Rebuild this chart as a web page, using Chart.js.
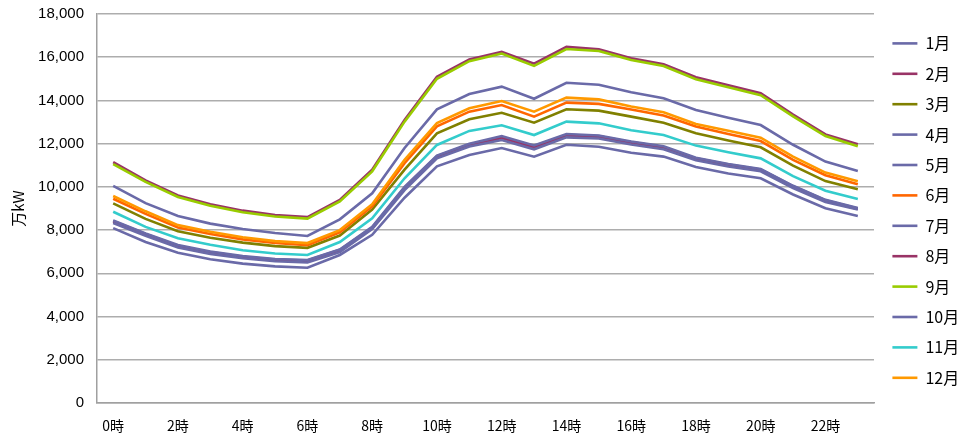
<!DOCTYPE html>
<html><head><meta charset="utf-8">
<script src="https://cdn.jsdelivr.net/npm/chart.js@4/dist/chart.umd.min.js"></script>
<style>html,body{margin:0;padding:0;background:#fff}#wrap{width:961px;height:439px}</style>
</head><body><div id="wrap"><canvas id="c" width="961" height="439"></canvas></div>
<script>
const hours = ['0時','1時','2時','3時','4時','5時','6時','7時','8時','9時','10時','11時','12時','13時','14時','15時','16時','17時','18時','19時','20時','21時','22時','23時'];
const monthNames = ['1月','2月','3月','4月','5月','6月','7月','8月','9月','10月','11月','12月'];
const yTicks = [0,2000,4000,6000,8000,10000,12000,14000,16000,18000];

const m1  = [8420,7820,7280,6980,6770,6640,6590,7090,8120,9960,11420,11960,12300,11880,12410,12350,12070,11850,11320,11030,10800,10030,9380,9000];
const m2  = [8390,7790,7250,6960,6750,6610,6560,7040,8090,9920,11380,11930,12260,11830,12370,12310,12030,11810,11290,11000,10770,10000,9350,8980];
const m3  = [9240,8520,7950,7650,7420,7260,7180,7750,8950,10800,12480,13130,13430,12970,13590,13530,13250,12970,12480,12150,11830,10980,10270,9890];
const m4  = [8090,7450,6950,6650,6450,6320,6260,6850,7780,9500,10950,11480,11800,11400,11950,11860,11580,11400,10920,10620,10400,9650,9010,8650];
const m5  = [8330,7740,7200,6900,6700,6560,6500,6980,8050,9850,11320,11870,12170,11740,12290,12240,11960,11740,11230,10940,10720,9950,9300,8950];
const m6  = [9450,8750,8120,7820,7570,7400,7300,7900,9100,11100,12800,13480,13790,13250,13900,13840,13580,13300,12790,12450,12120,11250,10540,10120];
const m7  = [10050,9250,8650,8300,8050,7870,7730,8500,9700,11800,13590,14300,14640,14080,14820,14730,14380,14100,13560,13200,12860,11950,11170,10740];
const m8  = [11150,10300,9600,9200,8900,8700,8600,9400,10800,13100,15100,15900,16250,15700,16480,16370,15950,15680,15070,14700,14330,13350,12430,11970];
const m9  = [11050,10230,9530,9130,8830,8630,8530,9330,10720,13020,15000,15820,16170,15600,16380,16290,15870,15590,14980,14610,14240,13260,12350,11880];
const m10 = [8450,7850,7310,7010,6800,6660,6620,7100,8150,10000,11450,12000,12350,11920,12450,12380,12100,11880,11350,11060,10830,10050,9400,9020];
const m11 = [8850,8150,7620,7320,7070,6920,6850,7450,8550,10400,11940,12590,12850,12400,13020,12940,12620,12400,11910,11600,11320,10500,9820,9440];
const m12 = [9580,8870,8230,7920,7670,7490,7400,8000,9200,11250,12950,13640,13970,13480,14130,14050,13720,13450,12910,12600,12280,11400,10660,10260];

const series = [m1,m2,m3,m4,m5,m6,m7,m8,m9,m10,m11,m12];
const colors = ['#6A6AA8','#993366','#808000','#6A6AA8','#6A6AA8','#FF6600','#6A6AA8','#993366','#99CC00','#6A6AA8','#33CCCC','#FF9900'];

const datasets = series.map((d,i)=>({
  label: monthNames[i],
  data: d,
  borderColor: colors[i],
  backgroundColor: colors[i],
  borderWidth: 2.6,
  pointRadius: 0,
  pointStyle: 'line',
  tension: 0,
  fill: false,
  order: 12 - i
}));

const chart = new Chart(document.getElementById('c'), {
  type: 'line',
  data: { labels: hours, datasets },
  options: {
    responsive: false,
    animation: false,
    devicePixelRatio: 1,
    layout: { padding: { top: 14, right: 0, bottom: 0, left: 0 } },
    plugins: {
      tooltip: { enabled: false },
      legend: {
        position: 'right',
        align: 'start',
        labels: {
          usePointStyle: true,
          pointStyleWidth: 25,
          boxHeight: 16,
          padding: 14.4,
          color: '#000',
          font: { family: '"Noto Sans CJK JP", sans-serif', size: 16 },
          sort: (a,b) => a.datasetIndex - b.datasetIndex
        }
      }
    },
    scales: {
      x: {
        offset: true,
        grid: { display: false, drawTicks: false, tickLength: 0 },
        border: { display: true, color: '#A0A0A0', width: 1.5 },
        ticks: {
          autoSkip: false, maxRotation: 0, minRotation: 0, padding: 14,
          color: '#000',
          font: { family: '"Noto Sans CJK JP", sans-serif', size: 14 },
          callback: function(v, i){ return i % 2 === 0 ? hours[i] : ''; }
        },
        afterFit: s => { s.height = 36; s.paddingRight = 0; s.paddingLeft = 0; }
      },
      y: {
        min: 0, max: 18000,
        afterBuildTicks: s => { s.ticks = yTicks.map(v => ({ value: v })); },
        grid: { color: '#ADADAD', lineWidth: 1.5, drawTicks: false, tickLength: 0 },
        border: { display: true, color: '#A0A0A0', width: 1.5 },
        ticks: {
          padding: 13, color: '#000',
          font: { family: '"Liberation Sans", Arial, sans-serif', size: 15 },
          callback: v => v.toLocaleString('en-US')
        },
        title: {
          display: true, text: '万kW', color: '#000',
          font: { family: '"Noto Sans CJK JP", sans-serif', size: 15 },
          padding: { top: 9, bottom: 0 }
        },
        afterFit: s => { s.width = 97; s.paddingTop = 0; s.paddingBottom = 0; }
      }
    }
  }
});
// legend box: fixed width so the plot area ends at x=874, contents nudged to the reference position
const lg = chart.legend;
const origFit = lg.fit.bind(lg);
lg.fit = function(){ origFit(); this.width = 87; };
const origDraw = lg.draw.bind(lg);
lg.draw = function(){ const ctx = this.ctx; ctx.save(); ctx.translate(4, 7); origDraw(); ctx.restore(); };
chart.update();
</script></body></html>
